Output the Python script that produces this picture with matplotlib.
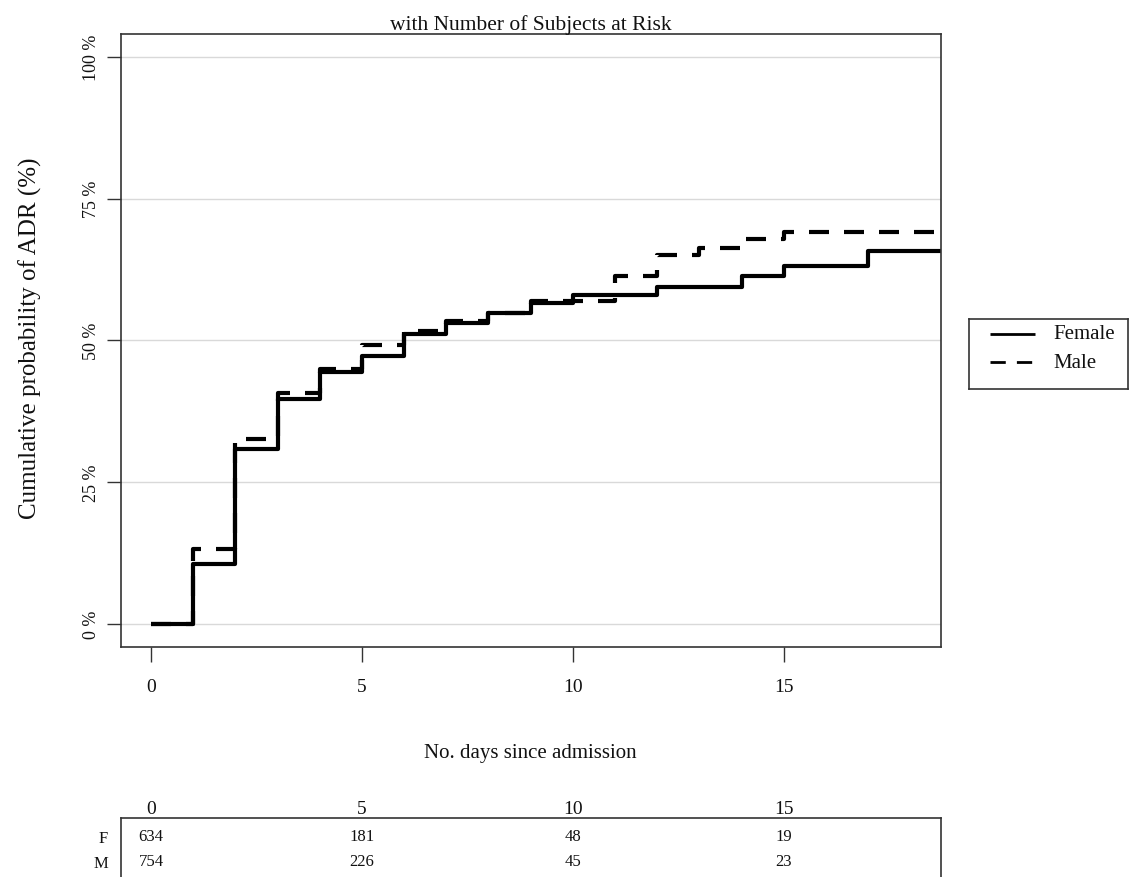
import matplotlib
matplotlib.use("Agg")
import matplotlib.pyplot as plt

plt.rcParams["font.family"] = ["Liberation Serif", "DejaVu Serif"]

# cumulative incidence (%) holding from each day onwards
days = [0, 1, 2, 3, 4, 5, 6, 7, 8, 9, 10, 11, 12, 13, 14, 15, 16, 17, 18, 19]
female_pct = [0, 10.6, 30.8, 39.7, 44.4, 47.2, 51.1, 53.0, 54.9, 56.5,
              58.0, 58.0, 59.4, 59.4, 61.3, 63.1, 63.1, 65.8, 65.8, 65.8]
male_pct = [0, 13.3, 32.6, 40.8, 45.0, 49.1, 51.7, 53.4, 54.9, 56.9,
            56.9, 61.3, 65.1, 66.3, 67.9, 69.1, 69.1, 69.1, 69.1, 69.1]

x_ticks = [0, 5, 10, 15]
y_ticks = [0, 25, 50, 75, 100]
y_tick_labels = ["0 %", "25 %", "50 %", "75 %", "100 %"]

# number at risk
risk_times = [0, 5, 10, 15]
risk_female = [634, 181, 48, 19]
risk_male = [754, 226, 45, 23]
risk_rows = ["F", "M"]

ink = "#111111"
spine = "#333333"

fig = plt.figure(figsize=(11.34, 8.78), dpi=100)
ax = fig.add_axes([0.1064, 0.2623, 0.7231, 0.6978])

ax.step(days, female_pct, where="post", color="black", lw=3,
        solid_capstyle="butt", label="Female")
ax.step(days, male_pct, where="post", color="black", lw=3,
        dashes=(4.8, 3.6), label="Male")

ax.set_xlim(-0.72, 18.72)
ax.set_ylim(-4, 104)
ax.set_xticks(x_ticks)
ax.set_xticklabels([str(t) for t in x_ticks], fontsize=14, color=ink)
ax.set_yticks(y_ticks)
ax.set_yticklabels(y_tick_labels, fontsize=13, rotation=90, va="center", color=ink)
ax.grid(axis="y", color="#d9d9d9", lw=1)
ax.set_axisbelow(True)
ax.tick_params(axis="x", direction="out", length=10.5, width=1, color=spine, pad=12)
ax.tick_params(axis="y", direction="out", length=10, width=1, color=spine, pad=5)
for s in ax.spines.values():
    s.set_color(spine)
    s.set_linewidth(1.2)

ax.set_title("with Number of Subjects at Risk", fontsize=15.5, pad=2, color=ink)
ax.set_ylabel("Cumulative probability of ADR (%)", fontsize=18, color=ink, va="center")
ax.yaxis.set_label_coords(-0.11, 0.505)
ax.set_xlabel("No. days since admission", fontsize=15, color=ink, va="center")
ax.xaxis.set_label_coords(0.5, -0.1735)

# legend box to the right of the plot
lax = fig.add_axes([969 / 1134, 1 - 390 / 878, 159 / 1134, 70 / 878])
lax.set_xlim(0, 1)
lax.set_ylim(0, 1)
lax.set_xticks([])
lax.set_yticks([])
for s in lax.spines.values():
    s.set_color(spine)
    s.set_linewidth(1.2)
lax.plot([0.132, 0.415], [0.786, 0.786], color="black", lw=2, solid_capstyle="butt")
lax.plot([0.132, 0.415], [0.381, 0.381], color="black", lw=2, dashes=(5.5, 4.0))
lax.text(0.528, 0.786, "Female", fontsize=15, va="center", color=ink)
lax.text(0.528, 0.381, "Male", fontsize=15, va="center", color=ink)

# risk table under the plot
tax = fig.add_axes([0.1064, 0.0, 0.7231, 1 - 819.3 / 878])
tax.set_xlim(-0.72, 18.72)
tax.set_ylim(0, 1)
tax.spines["bottom"].set_visible(False)
for name in ["top", "left", "right"]:
    tax.spines[name].set_color(spine)
    tax.spines[name].set_linewidth(1.2)
tax.xaxis.tick_top()
tax.set_xticks(risk_times)
tax.set_xticklabels([str(t) for t in risk_times], fontsize=14, color=ink)
tax.tick_params(axis="x", length=0, pad=1)
row_y = [0.70, 0.27]
tax.set_yticks(row_y)
tax.set_yticklabels(risk_rows, fontsize=12, color=ink)
tax.tick_params(axis="y", length=0, pad=9)
for counts, y in zip([risk_female, risk_male], row_y):
    for t, n in zip(risk_times, counts):
        tax.text(t, y, str(n), ha="center", va="center", fontsize=12, color=ink)

fig.savefig("out.png", dpi=100)
